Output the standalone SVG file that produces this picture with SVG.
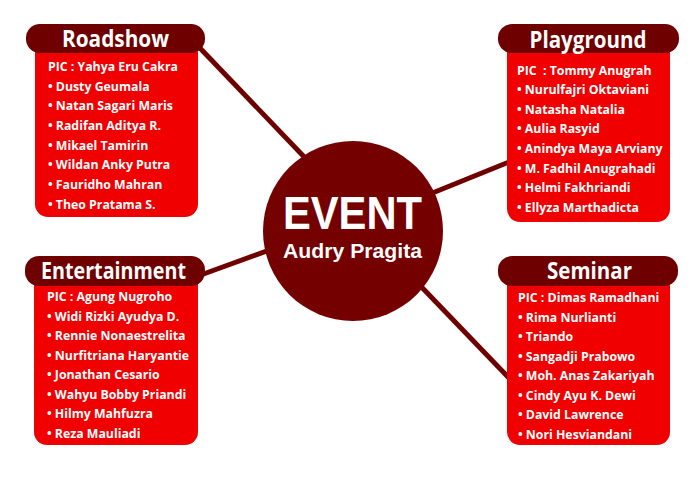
<svg xmlns="http://www.w3.org/2000/svg" width="700" height="486" viewBox="0 0 700 486">
<style>
.body{fill:#F00000}
.head{fill:#6E0000}
.title{font-family:"Open Sans","DejaVu Sans",sans-serif;font-weight:bold;font-size:23px;fill:#fff;text-anchor:middle}
.item{font-family:"Open Sans","DejaVu Sans",sans-serif;font-weight:bold;font-size:12.3px;fill:#fff}
.conn{stroke:#6E0000;stroke-width:5;stroke-linecap:butt;fill:none}
.center{font-family:"Liberation Sans","Open Sans",sans-serif;font-weight:bold;fill:#fff;text-anchor:middle}
</style>
<rect width="700" height="486" fill="#fff"/>
<g id="connectors">
<line class="conn" x1="198" y1="46" x2="310" y2="163"/>
<line class="conn" x1="425" y1="196" x2="509" y2="162"/>
<line class="conn" x1="198" y1="276" x2="275" y2="248"/>
<line class="conn" x1="410" y1="275" x2="509" y2="378"/>
</g>
<g id="roadshow">
<rect class="body" x="35" y="40" width="163" height="177" rx="13"/>
<rect class="head" x="26" y="24" width="179" height="29" rx="14"/>
<text class="title" x="115.5" y="47" textLength="107" lengthAdjust="spacingAndGlyphs">Roadshow</text>
<text class="item" x="48" y="71">PIC : Yahya Eru Cakra</text>
<text class="item" x="48" y="91">• Dusty Geumala</text>
<text class="item" x="48" y="110">• Natan Sagari Maris</text>
<text class="item" x="48" y="130">• Radifan Aditya R.</text>
<text class="item" x="48" y="150">• Mikael Tamirin</text>
<text class="item" x="48" y="169">• Wildan Anky Putra</text>
<text class="item" x="48" y="189">• Fauridho Mahran</text>
<text class="item" x="48" y="209">• Theo Pratama S.</text>
</g>
<g id="playground">
<rect class="body" x="507" y="40" width="163" height="182" rx="13"/>
<rect class="head" x="498" y="24" width="181" height="29" rx="14"/>
<text class="title" x="588" y="48" textLength="117" lengthAdjust="spacingAndGlyphs">Playground</text>
<text class="item" x="517" y="75" xml:space="preserve">PIC  : Tommy Anugrah</text>
<text class="item" x="517" y="94">• Nurulfajri Oktaviani</text>
<text class="item" x="517" y="114">• Natasha Natalia</text>
<text class="item" x="517" y="133">• Aulia Rasyid</text>
<text class="item" x="517" y="153">• Anindya Maya Arviany</text>
<text class="item" x="517" y="173">• M. Fadhil Anugrahadi</text>
<text class="item" x="517" y="192">• Helmi Fakhriandi</text>
<text class="item" x="517" y="212">• Ellyza Marthadicta</text>
</g>
<g id="entertainment">
<rect class="body" x="34" y="270" width="164" height="175" rx="13"/>
<rect class="head" x="25" y="256" width="180" height="30" rx="14"/>
<text class="title" x="113.5" y="279" textLength="145" lengthAdjust="spacingAndGlyphs">Entertainment</text>
<text class="item" x="47" y="301">PIC : Agung Nugroho</text>
<text class="item" x="47" y="321">• Widi Rizki Ayudya D.</text>
<text class="item" x="47" y="340">• Rennie Nonaestrelita</text>
<text class="item" x="47" y="360">• Nurfitriana Haryantie</text>
<text class="item" x="47" y="379">• Jonathan Cesario</text>
<text class="item" x="47" y="399">• Wahyu Bobby Priandi</text>
<text class="item" x="47" y="418">• Hilmy Mahfuzra</text>
<text class="item" x="47" y="438">• Reza Mauliadi</text>
</g>
<g id="seminar">
<rect class="body" x="507" y="270" width="163" height="175" rx="13"/>
<rect class="head" x="498" y="256" width="180" height="30" rx="14"/>
<text class="title" x="589.5" y="279" textLength="85" lengthAdjust="spacingAndGlyphs">Seminar</text>
<text class="item" x="518" y="302">PIC : Dimas Ramadhani</text>
<text class="item" x="518" y="322">• Rima Nurlianti</text>
<text class="item" x="518" y="341">• Triando</text>
<text class="item" x="518" y="361">• Sangadji Prabowo</text>
<text class="item" x="518" y="380">• Moh. Anas Zakariyah</text>
<text class="item" x="518" y="400">• Cindy Ayu K. Dewi</text>
<text class="item" x="518" y="419">• David Lawrence</text>
<text class="item" x="518" y="439">• Nori Hesviandani</text>
</g>
<g id="event">
<circle cx="353" cy="231" r="90" fill="#750000"/>
<text class="center" x="352.5" y="229" font-size="46" textLength="139" lengthAdjust="spacingAndGlyphs">EVENT</text>
<text class="center" x="352.5" y="258" font-size="20.5" textLength="139" lengthAdjust="spacingAndGlyphs">Audry Pragita</text>
</g>
</svg>
